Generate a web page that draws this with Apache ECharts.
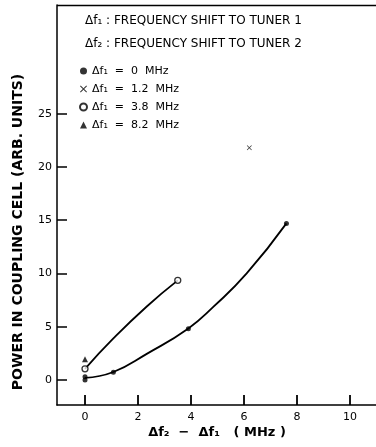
<!DOCTYPE html>
<html>
<head>
<meta charset="utf-8">
<script src="https://cdn.jsdelivr.net/npm/echarts@6/dist/echarts.min.js"></script>
<style>
  html, body { margin: 0; padding: 0; background: #fff; }
  #chart { width: 376px; height: 447px; }
</style>
</head>
<body>
<div id="chart"></div>
<script>
// measured points, [Δf2 - Δf1 (MHz), power (arb. units)]
var pointsF0 = [[0, 0], [0, 0.3], [1.07, 0.72], [3.9, 4.8], [7.6, 14.7]];
var pointsF12 = [[6.2, 21.8]];
var pointsF38 = [[0, 1.05], [3.5, 9.35]];
var pointsF82 = [[0, 1.95]];
// hand drawn curves through the points
var curveLow = [[0, 0.2], [1.07, 0.75], [2.33, 2.45], [3.9, 4.84], [4.84, 6.86], [6.1, 10.0], [7.6, 14.7]];
var curveHigh = [[0, 1.05], [1.07, 3.9], [2.33, 6.9], [3.5, 9.35]];
var xTicks = [0, 2, 4, 6, 8, 10];
var yTicks = [0, 5, 10, 15, 20, 25];
var seriesNames = ['Δf₁  =  0  MHz', 'Δf₁  =  1.2  MHz', 'Δf₁  =  3.8  MHz', 'Δf₁  =  8.2  MHz'];

var crossPath = 'path://M0,1L1,0L5,4L9,0L10,1L6,5L10,9L9,10L5,6L1,10L0,9L4,5Z';
var font = 'DejaVu Sans';
var xMin = -1.057, xMax = 10.98;
var yMin = -2.35, yMax = 35.2;

var chart = echarts.init(document.getElementById('chart'));

var option = {
  animation: false,
  backgroundColor: '#fff',
  textStyle: { fontFamily: font, color: '#000' },
  grid: { left: 57, right: 0, top: 5, bottom: 42 },
  legend: {
    data: seriesNames,
    orient: 'vertical',
    left: 79,
    top: 65,
    padding: 0,
    itemWidth: 7,
    itemHeight: 7,
    itemGap: 6,
    textStyle: { fontFamily: font, fontSize: 11, lineHeight: 12, color: '#000' }
  },
  xAxis: {
    type: 'value',
    min: xMin,
    max: xMax,
    axisLine: { onZero: false, lineStyle: { color: '#000', width: 1.5 } },
    axisTick: { show: true, inside: true, length: 10, customValues: xTicks, lineStyle: { color: '#000', width: 1.5 } },
    axisLabel: { customValues: xTicks, fontSize: 11, color: '#000', fontFamily: font, margin: 7 },
    splitLine: { show: false }
  },
  yAxis: {
    type: 'value',
    min: yMin,
    max: yMax,
    axisLine: { onZero: false, lineStyle: { color: '#000', width: 1.5 } },
    axisTick: { show: true, inside: true, length: 10, customValues: yTicks, lineStyle: { color: '#000', width: 1.5 } },
    axisLabel: { customValues: yTicks, fontSize: 11, color: '#000', fontFamily: font, margin: 5 },
    splitLine: { show: false }
  },
  graphic: [
    {
      // top frame line of the plot box
      type: 'line', shape: { x1: 57, y1: 5.5, x2: 376, y2: 5.5 },
      style: { stroke: '#000', lineWidth: 1.5 }
    },
    {
      type: 'text', left: 85, top: 15,
      style: { text: 'Δf₁ : FREQUENCY SHIFT TO TUNER 1', font: '12px "DejaVu Sans"', fill: '#000' }
    },
    {
      type: 'text', left: 85, top: 38,
      style: { text: 'Δf₂ : FREQUENCY SHIFT TO TUNER 2', font: '12px "DejaVu Sans"', fill: '#000' }
    },
    {
      type: 'text', x: 18, y: 232, rotation: Math.PI / 2,
      style: {
        text: 'POWER IN COUPLING CELL (ARB. UNITS)', font: 'bold 14px "DejaVu Sans"', fill: '#000',
        align: 'center', verticalAlign: 'middle'
      }
    },
    {
      type: 'text', x: 217, y: 433,
      style: {
        text: 'Δf₂  −  Δf₁   ( MHz )', font: 'bold 13px "DejaVu Sans"', fill: '#000',
        align: 'center', verticalAlign: 'middle'
      }
    }
  ],
  series: [
    {
      type: 'line', data: curveLow, smooth: true, showSymbol: false, silent: true,
      lineStyle: { color: '#000', width: 1.8 }, z: 1
    },
    {
      type: 'line', data: curveHigh, smooth: true, showSymbol: false, silent: true,
      lineStyle: { color: '#000', width: 1.8 }, z: 1
    },
    {
      // x tick marks, one thin bar standing on the bottom line at each tick value
      type: 'scatter', silent: true, clip: false, z: 5,
      data: xTicks.map(function (v) { return [v, yMin]; }),
      symbol: 'rect', symbolSize: [1.5, 10], symbolOffset: [0, -5],
      itemStyle: { color: '#000' }
    },
    {
      name: seriesNames[0], type: 'scatter', data: pointsF0,
      symbol: 'circle', symbolSize: 5, itemStyle: { color: '#000' }
    },
    {
      name: seriesNames[1], type: 'scatter', data: pointsF12,
      symbol: crossPath, symbolSize: 5, itemStyle: { color: '#000' }
    },
    {
      name: seriesNames[2], type: 'scatter', data: pointsF38,
      symbol: 'circle', symbolSize: 6,
      itemStyle: { color: '#fff', borderColor: '#000', borderWidth: 1.3 }
    },
    {
      name: seriesNames[3], type: 'scatter', data: pointsF82,
      symbol: 'triangle', symbolSize: 6, itemStyle: { color: '#000' }
    }
  ]
};

chart.setOption(option);
</script>
</body>
</html>
